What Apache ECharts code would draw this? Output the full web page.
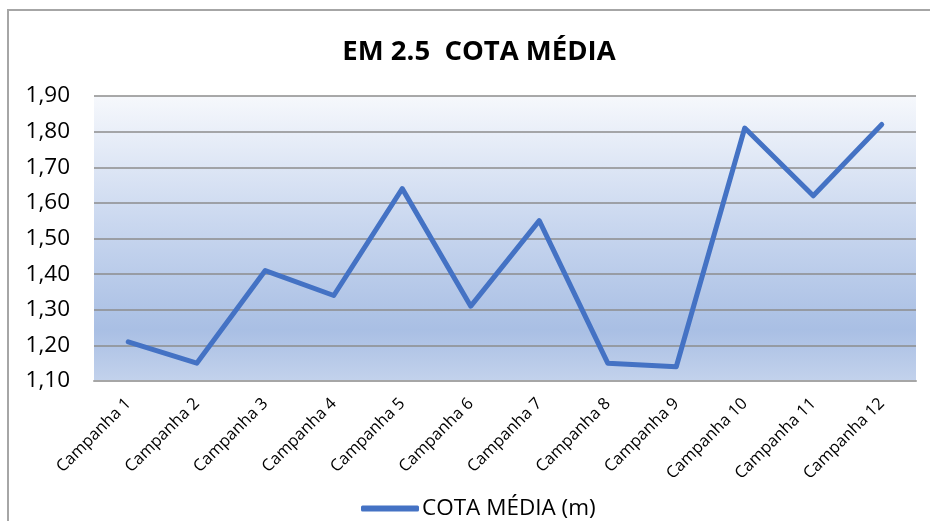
<!DOCTYPE html>
<html>
<head>
<meta charset="utf-8">
<script src="https://cdn.jsdelivr.net/npm/echarts@6/dist/echarts.min.js"></script>
<style>
html,body{margin:0;padding:0;background:#fff;}
#chart{width:930px;height:521px;}
</style>
</head>
<body>
<div id="chart"></div>
<script>
const categories = ['Campanha 1','Campanha 2','Campanha 3','Campanha 4','Campanha 5','Campanha 6','Campanha 7','Campanha 8','Campanha 9','Campanha 10','Campanha 11','Campanha 12'];
const cotaMedia = [1.21, 1.15, 1.41, 1.34, 1.64, 1.31, 1.55, 1.15, 1.14, 1.81, 1.62, 1.82];
const seriesName = 'COTA MÉDIA (m)';
const titleText = 'EM 2.5  COTA MÉDIA';
const yMin = 1.1, yMax = 1.9, yStep = 0.1;

const FONT = '"Open Sans", "Noto Sans", sans-serif';
const chart = echarts.init(document.getElementById('chart'), null, {renderer: 'canvas'});
chart.setOption({
  backgroundColor: '#ffffff',
  animation: false,
  graphic: [{
    type: 'rect', z: 100, silent: true,
    shape: {x: 8, y: 10, width: 940, height: 530},
    style: {fill: 'none', stroke: '#a6a6a6', lineWidth: 2}
  }],
  title: {
    text: titleText,
    left: 474, top: 33, textAlign: 'center',
    textStyle: {fontFamily: FONT, fontWeight: 'bold', fontSize: 27.5, color: '#000'}
  },
  legend: {
    data: [{name: seriesName, icon: 'roundRect'}],
    left: 356, top: 492,
    itemWidth: 58, itemHeight: 6, itemGap: 4,
    textStyle: {fontFamily: FONT, fontSize: 22.5, color: '#000', padding: [0,0,0,-2]}
  },
  grid: {
    left: 94, right: 14, top: 96, bottom: 140,
    show: true, borderWidth: 0,
    backgroundColor: new echarts.graphic.LinearGradient(0, 0, 0, 1, [
      {offset: 0, color: '#f6f8fc'},
      {offset: 0.45, color: '#c9d7ef'},
      {offset: 0.82, color: '#a9bfe4'},
      {offset: 1, color: '#c3d2ec'}
    ])
  },
  xAxis: {
    type: 'category',
    data: categories,
    boundaryGap: true,
    axisLine: {show: true, lineStyle: {color: '#a6a6a6', width: 2}},
    axisTick: {show: false},
    axisLabel: {rotate: 45, margin: 20, fontFamily: FONT, fontSize: 16.5, color: '#000', interval: 0}
  },
  yAxis: {
    type: 'value',
    min: yMin, max: yMax, interval: yStep,
    axisLine: {show: false},
    axisTick: {show: false},
    splitLine: {show: true, lineStyle: {color: '#8c8c8c', width: 1.5}},
    axisLabel: {
      margin: 24, fontFamily: FONT, fontSize: 22.5, color: '#000',
      formatter: v => v.toFixed(2).replace('.', ',')
    }
  },
  series: [{
    name: seriesName,
    type: 'line',
    data: cotaMedia,
    showSymbol: false,
    symbol: 'none',
    lineStyle: {color: '#4472c4', width: 5, cap: 'round', join: 'round'},
    itemStyle: {color: '#4472c4'}
  }]
});
</script>
</body>
</html>
